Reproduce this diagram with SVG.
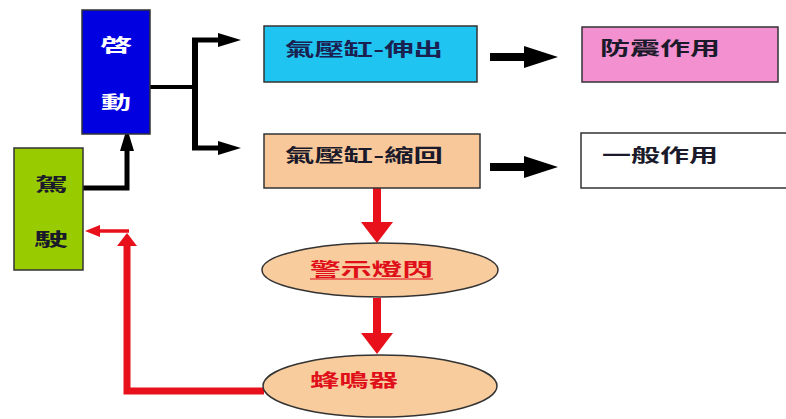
<svg xmlns="http://www.w3.org/2000/svg" width="786" height="419" viewBox="0 0 786 419">
<defs>
<style>
.box{stroke:#333;stroke-width:1.5}
.t{font-family:"Noto Sans CJK TC","Noto Sans CJK SC",sans-serif;font-weight:bold;font-size:18px}
.dk{fill:#1a1a2a}
.wt{fill:#ffffff}
.rd{fill:#e0101a}
.blk{fill:none;stroke:#000;stroke-linejoin:miter}
.red{fill:none;stroke:#e8101a;stroke-linejoin:miter}
</style>
<marker id="hS" markerUnits="userSpaceOnUse" markerWidth="24" markerHeight="16" refX="0" refY="7" orient="auto"><path d="M0,0 L23,7 L0,14 z" fill="#000"/></marker>
<marker id="hL" markerUnits="userSpaceOnUse" markerWidth="36" markerHeight="24" refX="0" refY="11" orient="auto"><path d="M0,0 L34,11 L0,22 z" fill="#000"/></marker>
<marker id="hR" markerUnits="userSpaceOnUse" markerWidth="22" markerHeight="34" refX="0" refY="16" orient="auto"><path d="M0,0 L21,16 L0,32 z" fill="#e8101a"/></marker>
<marker id="hRu" markerUnits="userSpaceOnUse" markerWidth="14" markerHeight="22" refX="0" refY="10" orient="auto"><path d="M0,0 L13,10 L0,20 z" fill="#e8101a"/></marker>
<marker id="hRs" markerUnits="userSpaceOnUse" markerWidth="16" markerHeight="14" refX="0" refY="6" orient="auto"><path d="M0,0 L15,6 L0,12 z" fill="#e8101a"/></marker>
</defs>
<rect width="786" height="419" fill="#ffffff"/>
<g id="connectors">
<path class="blk" d="M83,188 H127 V151" stroke-width="5" marker-end="url(#hS)"/>
<path class="blk" d="M150,87 H195" stroke-width="4"/>
<path class="blk" d="M195,40 V148" stroke-width="6"/>
<path class="blk" d="M192,40 H218" stroke-width="5" marker-end="url(#hS)"/>
<path class="blk" d="M192,148 H218" stroke-width="5" marker-end="url(#hS)"/>
<path class="blk" d="M490,57 H524" stroke-width="8" marker-end="url(#hL)"/>
<path class="blk" d="M490,167 H524" stroke-width="8" marker-end="url(#hL)"/>
<path class="red" d="M377,188 V222" stroke-width="8" marker-end="url(#hR)"/>
<path class="red" d="M377,298 V333" stroke-width="8" marker-end="url(#hR)"/>
<path class="red" d="M264,391 H127 V246" stroke-width="7" marker-end="url(#hRu)"/>
<path class="red" d="M129,231 H100" stroke-width="3.5" marker-end="url(#hRs)"/>
</g>
<g id="start">
<rect class="box" x="82" y="10" width="68" height="124" fill="#0000e0"/>
<text class="t wt" x="100" y="52" textLength="32" lengthAdjust="spacingAndGlyphs">啓</text>
<text class="t wt" x="101" y="109" textLength="30" lengthAdjust="spacingAndGlyphs">動</text>
</g>
<g id="drive">
<rect class="box" x="14" y="148" width="69" height="122" fill="#99cc00"/>
<text class="t dk" x="35" y="191" textLength="33" lengthAdjust="spacingAndGlyphs">駕</text>
<text class="t dk" x="34" y="246" textLength="34" lengthAdjust="spacingAndGlyphs">駛</text>
</g>
<g id="extend">
<rect class="box" x="264" y="26" width="213" height="56" fill="#20c4f0"/>
<text class="t" fill="#1a2050" x="285" y="56" textLength="158" lengthAdjust="spacingAndGlyphs">氣壓缸-伸出</text>
</g>
<g id="retract">
<rect class="box" x="264" y="134" width="216" height="54" fill="#f9c89a"/>
<text class="t dk" x="285" y="162" textLength="158" lengthAdjust="spacingAndGlyphs">氣壓缸-縮回</text>
</g>
<g id="protect">
<rect class="box" x="582" y="27" width="196" height="55" fill="#f290d0"/>
<text class="t dk" x="600" y="55" textLength="120" lengthAdjust="spacingAndGlyphs">防震作用</text>
</g>
<g id="general">
<rect class="box" x="581" y="133" width="215" height="55" fill="#ffffff"/>
<text class="t dk" x="602" y="162" textLength="116" lengthAdjust="spacingAndGlyphs">一般作用</text>
</g>
<g id="warnlight">
<ellipse class="box" cx="380" cy="270" rx="118" ry="27" fill="#f9cc9e"/>
<text class="t rd" x="310" y="276" textLength="123" lengthAdjust="spacingAndGlyphs">警示燈閃</text>
<line x1="310" y1="279" x2="433" y2="279" stroke="#e0101a" stroke-width="1.2"/>
</g>
<g id="buzzer">
<ellipse class="box" cx="380" cy="386" rx="117" ry="31" fill="#f9cc9e"/>
<text class="t rd" x="310" y="387" textLength="88" lengthAdjust="spacingAndGlyphs">蜂鳴器</text>
</g>
</svg>
